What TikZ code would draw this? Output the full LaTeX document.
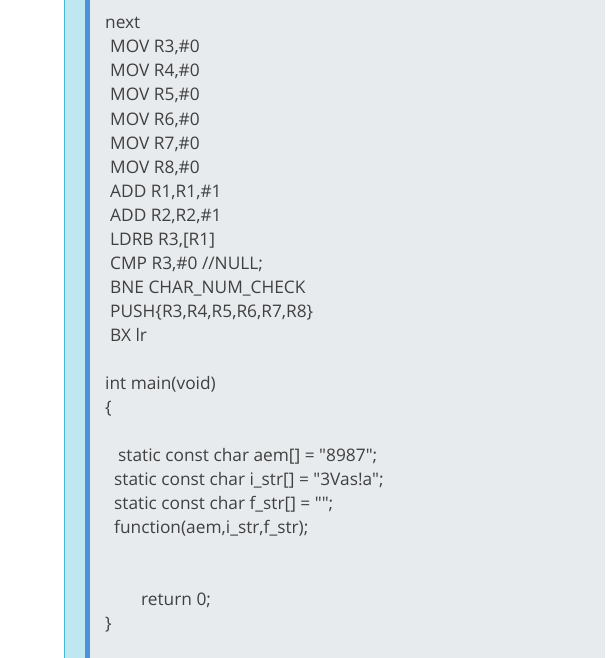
\documentclass[tikz,border=0pt]{standalone}
\usepackage{fontspec}
\setmainfont{Open Sans}[Ligatures=TeXOff]
\usepackage{xcolor}
\definecolor{pagegray}{HTML}{E8EBEE}
\definecolor{stripecyan}{HTML}{BEE7F1}
\definecolor{edgecyan}{HTML}{45B8D8}
\definecolor{barblue}{HTML}{4A93DB}
\definecolor{codegray}{HTML}{404040}
\tikzset{
    codesty/.style={anchor=base west,inner sep=0pt,text=codegray,font=\fontsize{17.3}{24}\selectfont},
    bgsty/.style={fill=pagegray,draw=none},
    stripesty/.style={fill=stripecyan,draw=none},
    barsty/.style={fill=barblue,draw=none},
}

\begin{document}
\begin{tikzpicture}[x=1pt,y=-1pt]
\useasboundingbox (0,0) rectangle (605,658);
\fill[white] (0,0) rectangle (605,658);
\fill[stripesty] (64,0) rectangle (85,658);
\fill[edgecyan] (64,0) rectangle (65,658);
\fill[barsty] (85,0) rectangle (90,658);
\fill[bgsty] (90,0) rectangle (605,658);

% assembler part
\node[codesty] (l0)  at (105,29)  {next};
\node[codesty] (l1)  at (110,53)  {MOV R3,\#0};
\node[codesty] (l2)  at (110,77)  {MOV R4,\#0};
\node[codesty] (l3)  at (110,101) {MOV R5,\#0};
\node[codesty] (l4)  at (110,125) {MOV R6,\#0};
\node[codesty] (l5)  at (110,149) {MOV R7,\#0};
\node[codesty] (l6)  at (110,173) {MOV R8,\#0};
\node[codesty] (l7)  at (110,197) {ADD R1,R1,\#1};
\node[codesty] (l8)  at (110,221) {ADD R2,R2,\#1};
\node[codesty] (l9)  at (110,245) {LDRB R3,[R1]};
\node[codesty] (l10) at (110,269) {CMP R3,\#0 //NULL;};
\node[codesty] (l11) at (110,293) {BNE CHAR\_NUM\_CHECK};
\node[codesty] (l12) at (110,317) {PUSH\{R3,R4,R5,R6,R7,R8\}};
\node[codesty] (l13) at (110,341) {BX lr};

% C part
\node[codesty] (l15) at (105,389) {int main(void)};
\node[codesty] (l16) at (105,413) {\{};
\node[codesty] (l18) at (118,461) {static const char aem[] = "8987";};
\node[codesty] (l19) at (114,485) {static const char i\_str[] = "3Vas!a";};
\node[codesty] (l20) at (114,509) {static const char f\_str[] = "";};
\node[codesty] (l21) at (114,533) {function(aem,i\_str,f\_str);};
\node[codesty] (l24) at (141,605) {return 0;};
\node[codesty] (l25) at (105,629) {\}};
\end{tikzpicture}
\end{document}
